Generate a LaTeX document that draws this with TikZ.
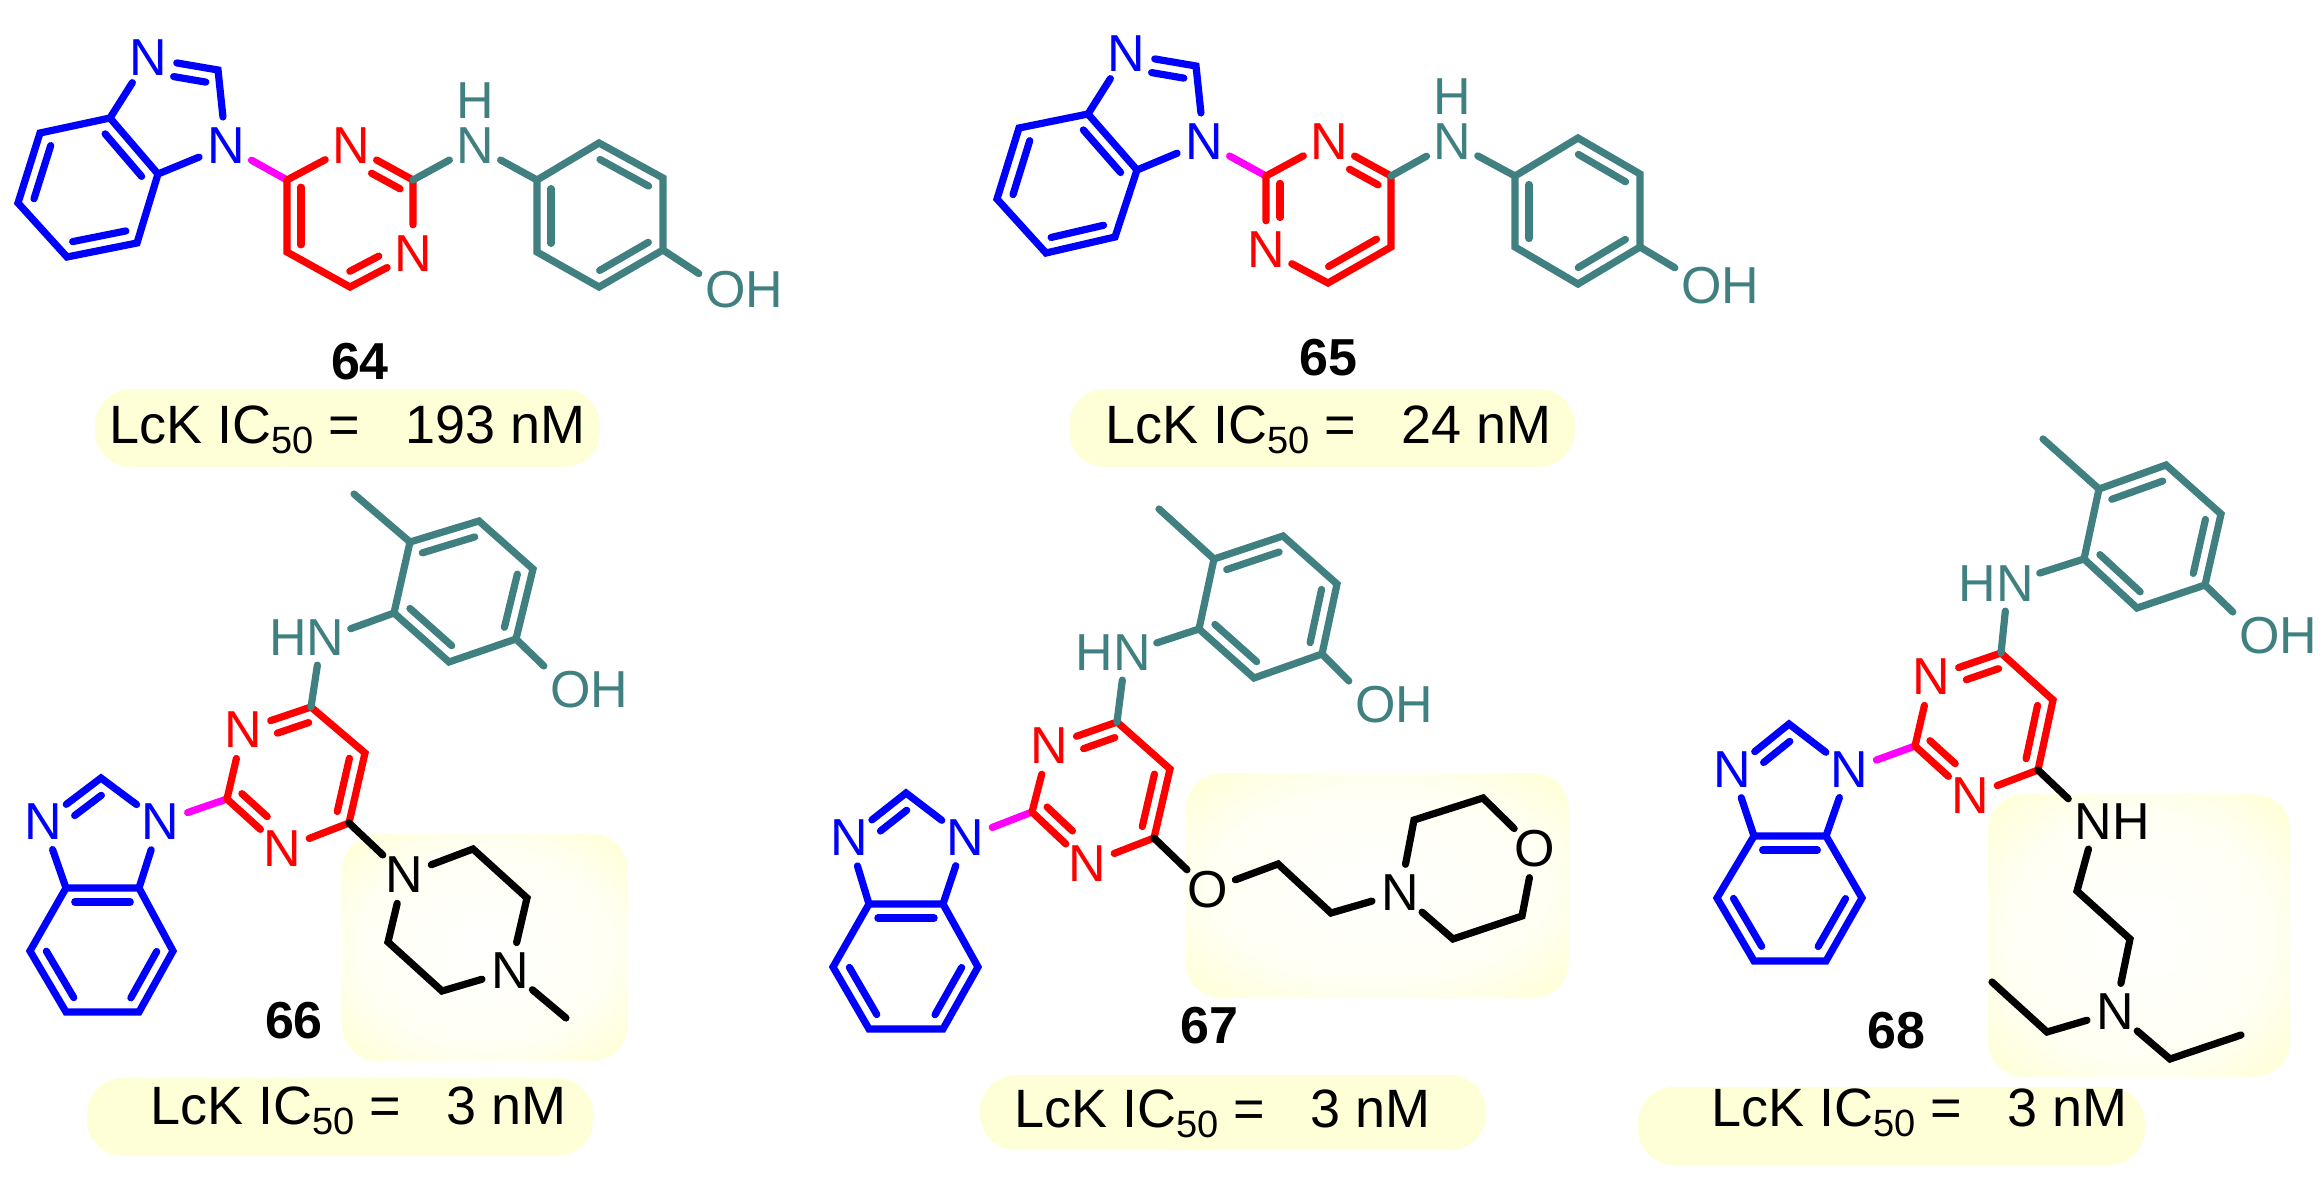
\documentclass[tikz,border=0pt]{standalone}
\usepackage{fontspec}
\setmainfont{Liberation Sans}
\usetikzlibrary{calc}

\definecolor{arylteal}{HTML}{408080}
\definecolor{linkpink}{HTML}{FF00FF}
\definecolor{pillyellow}{HTML}{FFFFD7}
\definecolor{paleyellow}{HTML}{FFFFF3}
\pgfdeclareradialshading{boxglow}{\pgfpointorigin}{color(0bp)=(white); color(22bp)=(paleyellow); color(34bp)=(pillyellow); color(100bp)=(pillyellow)}

% inner line of a double bond, on the left of a->b
\newcommand{\inbond}[5]{\draw[#1] ($(#2)!#4!(#3)!14pt!90:(#3)$) -- ($(#3)!#5!(#2)!14pt!-90:(#2)$);}
\newcommand{\lck}[1]{LcK IC\raisebox{-10.5pt}{\fontsize{38}{38}\selectfont 50} =\ \ \ #1 nM}

\begin{document}
\begin{tikzpicture}[x=1pt,y=-1pt,
    bond/.style={line width=7.2pt, line cap=round, line join=miter},
    bluebond/.style={bond, draw=blue},
    redbond/.style={bond, draw=red},
    tealbond/.style={bond, draw=arylteal},
    pinkbond/.style={bond, draw=linkpink},
    blackbond/.style={bond, draw=black},
    atom/.style={circle, inner sep=0pt, minimum size=58pt, font=\fontsize{52}{60}\selectfont},
    blueatom/.style={atom, text=blue},
    redatom/.style={atom, text=red},
    tealatom/.style={atom, text=arylteal},
    blackatom/.style={atom, text=black},
    group/.style={rectangle, inner xsep=6pt, inner ysep=9pt, font=\fontsize{52}{60}\selectfont},
    hydrogen/.style={inner sep=0pt, text=arylteal, font=\fontsize{52}{60}\selectfont},
    compound/.style={inner sep=0pt, font=\fontsize{52}{60}\selectfont\bfseries},
    potency/.style={anchor=base west, inner sep=0pt, font=\fontsize{54}{60}\selectfont},
    pill/.style={fill=pillyellow, rounded corners=36pt},
    glow/.style={shading=boxglow, rounded corners=36pt},
    ]
    \useasboundingbox (0,0) rectangle (2322,1180);

    %Backgrounds
    \fill[pill] (95,389) rectangle (600,467);
    \fill[pill] (1069,389) rectangle (1575,467);
    \fill[pill] (87,1078) rectangle (593,1156);
    \fill[pill] (980,1075) rectangle (1486,1150);
    \fill[pill] (1638,1087) rectangle (2145,1165);
    \shade[glow] (342,834) rectangle (628,1061);
    \shade[glow] (1186,773) rectangle (1569,998);
    \shade[glow] (1988,794) rectangle (2290,1077);

    %Compound 64
    \coordinate (m64b1) at (110,118); \coordinate (m64b2) at (40,133); \coordinate (m64b3) at (18,203);
    \coordinate (m64b4) at (67,257); \coordinate (m64b5) at (137,243); \coordinate (m64b6) at (158,174);
    \coordinate (m64ci) at (218,70);
    \node[blueatom] (m64ni) at (226,146) {N};
    \node[blueatom] (m64nj) at (148,58) {N};
    \coordinate (m64pc4) at (287,180); \coordinate (m64pc2) at (413,180);
    \coordinate (m64pc6) at (350,287); \coordinate (m64pc5) at (287,252);
    \node[redatom] (m64pn3) at (351,146) {N};
    \node[redatom] (m64pn1) at (413,254) {N};
    \node[tealatom] (m64nh) at (475,146) {N};
    \node[hydrogen] (m64h) at (475,101) {H};
    \coordinate (m64r1) at (537,180); \coordinate (m64r2) at (537,252); \coordinate (m64r3) at (599,287);
    \coordinate (m64r4) at (663,250); \coordinate (m64r5) at (663,178); \coordinate (m64r6) at (599,143);
    \node[group, text=arylteal] (m64oh) at (744,290) {OH};
    \node[compound] (m64name) at (360,362) {64};
    \node[potency] (m64ic) at (109,443) {\lck{193}};

    %Compound 65
    \coordinate (m65b1) at (1088,114); \coordinate (m65b2) at (1019,128); \coordinate (m65b3) at (997,199);
    \coordinate (m65b4) at (1046,253); \coordinate (m65b5) at (1115,237); \coordinate (m65b6) at (1137,170);
    \coordinate (m65ci) at (1196,66);
    \node[blueatom] (m65ni) at (1204,142) {N};
    \node[blueatom] (m65nj) at (1126,54) {N};
    \coordinate (m65pc2) at (1266,176); \coordinate (m65pc4) at (1391,176);
    \coordinate (m65pc5) at (1391,247); \coordinate (m65pc6) at (1328,283);
    \node[redatom] (m65pn3) at (1329,142) {N};
    \node[redatom] (m65pn1) at (1266,250) {N};
    \node[tealatom] (m65nh) at (1452,142) {N};
    \node[hydrogen] (m65h) at (1452,97) {H};
    \coordinate (m65r1) at (1515,176); \coordinate (m65r2) at (1515,247); \coordinate (m65r3) at (1578,284);
    \coordinate (m65r4) at (1640,247); \coordinate (m65r5) at (1640,174); \coordinate (m65r6) at (1578,138);
    \node[group, text=arylteal] (m65oh) at (1720,286) {OH};
    \node[compound] (m65name) at (1328,358) {65};
    \node[potency] (m65ic) at (1105,443) {\lck{24}};

    %Compound 66
    \coordinate (m66b1) at (66,888); \coordinate (m66b2) at (30,951); \coordinate (m66b3) at (66,1012);
    \coordinate (m66b4) at (139,1012); \coordinate (m66b5) at (173,951); \coordinate (m66b6) at (139,888);
    \coordinate (m66ci) at (101,778);
    \node[blueatom] (m66ni) at (160,822) {N};
    \node[blueatom] (m66nj) at (43,822) {N};
    \coordinate (m66pc2) at (227,799); \coordinate (m66pc4) at (311,707);
    \coordinate (m66pc5) at (365,753); \coordinate (m66pc6) at (349,823);
    \node[redatom] (m66pn3) at (243,730) {N};
    \node[redatom] (m66pn1) at (282,849) {N};
    \node[group, text=arylteal] (m66hn) at (307,638) {HN};
    \coordinate (m66r1) at (394,613); \coordinate (m66r2) at (449,662); \coordinate (m66r3) at (516,639);
    \coordinate (m66r4) at (533,569); \coordinate (m66r5) at (479,521); \coordinate (m66r6) at (410,542);
    \coordinate (m66me) at (354,494);
    \node[group, text=arylteal] (m66oh) at (589,690) {OH};
    \node[blackatom] (m66n1) at (404,875) {N};
    \coordinate (m66s2) at (473,849); \coordinate (m66s3) at (527,898);
    \node[blackatom] (m66n4) at (510,971) {N};
    \coordinate (m66s5) at (442,991); \coordinate (m66s6) at (388,942); \coordinate (m66sme) at (566,1018);
    \node[compound] (m66name) at (294,1021) {66};
    \node[potency] (m66ic) at (150,1124) {\lck{3}};

    %Compound 67
    \coordinate (m67b1) at (869,904); \coordinate (m67b2) at (833,967); \coordinate (m67b3) at (869,1029);
    \coordinate (m67b4) at (943,1029); \coordinate (m67b5) at (978,967); \coordinate (m67b6) at (943,904);
    \coordinate (m67ci) at (906,793);
    \node[blueatom] (m67ni) at (965,838) {N};
    \node[blueatom] (m67nj) at (849,838) {N};
    \coordinate (m67pc2) at (1032,812); \coordinate (m67pc4) at (1117,722);
    \coordinate (m67pc5) at (1170,769); \coordinate (m67pc6) at (1154,838);
    \node[redatom] (m67pn3) at (1049,746) {N};
    \node[redatom] (m67pn1) at (1087,864) {N};
    \node[group, text=arylteal] (m67hn) at (1113,653) {HN};
    \coordinate (m67r1) at (1199,629); \coordinate (m67r2) at (1254,678); \coordinate (m67r3) at (1322,654);
    \coordinate (m67r4) at (1337,584); \coordinate (m67r5) at (1283,536); \coordinate (m67r6) at (1214,559);
    \coordinate (m67me) at (1159,509);
    \node[group, text=arylteal] (m67oh) at (1394,705) {OH};
    \node[blackatom] (m67o1) at (1208,890) {O};
    \coordinate (m67e1) at (1278,864); \coordinate (m67e2) at (1331,913);
    \node[blackatom] (m67n1) at (1400,893) {N};
    \coordinate (m67s1) at (1414,820); \coordinate (m67s2) at (1483,798);
    \node[blackatom] (m67o2) at (1535,849) {O};
    \coordinate (m67s3) at (1522,916); \coordinate (m67s4) at (1453,939);
    \node[compound] (m67name) at (1209,1026) {67};
    \node[potency] (m67ic) at (1014,1127) {\lck{3}};

    %Compound 68
    \coordinate (m68b1) at (1754,836); \coordinate (m68b2) at (1717,898); \coordinate (m68b3) at (1754,961);
    \coordinate (m68b4) at (1826,961); \coordinate (m68b5) at (1862,898); \coordinate (m68b6) at (1826,836);
    \coordinate (m68ci) at (1789,724);
    \node[blueatom] (m68ni) at (1849,770) {N};
    \node[blueatom] (m68nj) at (1732,770) {N};
    \coordinate (m68pc2) at (1915,746); \coordinate (m68pc4) at (2001,653);
    \coordinate (m68pc5) at (2053,700); \coordinate (m68pc6) at (2038,770);
    \node[redatom] (m68pn3) at (1931,677) {N};
    \node[redatom] (m68pn1) at (1970,796) {N};
    \node[group, text=arylteal] (m68hn) at (1996,584) {HN};
    \coordinate (m68r1) at (2084,559); \coordinate (m68r2) at (2137,608); \coordinate (m68r3) at (2205,585);
    \coordinate (m68r4) at (2221,514); \coordinate (m68r5) at (2166,465); \coordinate (m68r6) at (2099,489);
    \coordinate (m68me) at (2043,439);
    \node[group, text=arylteal] (m68oh) at (2278,636) {OH};
    \node[group] (m68nh) at (2112,822) {NH};
    \coordinate (m68d1) at (2077,891); \coordinate (m68d2) at (2130,939);
    \node[blackatom] (m68n) at (2115,1012) {N};
    \coordinate (m68l1) at (2047,1032); \coordinate (m68l2) at (1992,982);
    \coordinate (m68t1) at (2170,1059); \coordinate (m68t2) at (2241,1035);
    \node[compound] (m68name) at (1896,1031) {68};
    \node[potency] (m68ic) at (1711,1126) {\lck{3}};

    %Lines
    \foreach \mol in {m64,m65,m66,m67,m68}{
        \draw[bluebond] (\mol b1) -- (\mol b2) -- (\mol b3) -- (\mol b4) -- (\mol b5) -- (\mol b6) -- cycle;
        \draw[bluebond] (\mol b6) -- (\mol ni) -- (\mol ci) -- (\mol nj) -- (\mol b1);
        \inbond{bluebond}{\mol b6}{\mol b1}{.12}{.12}
        \inbond{bluebond}{\mol b2}{\mol b3}{.12}{.12}
        \inbond{bluebond}{\mol b4}{\mol b5}{.12}{.12}
        \inbond{bluebond}{\mol ci}{\mol nj}{.14}{.4}
        \draw[tealbond] (\mol r1) -- (\mol r2) -- (\mol r3) -- (\mol r4) -- (\mol r5) -- (\mol r6) -- cycle;
        \inbond{tealbond}{\mol r1}{\mol r2}{.12}{.12}
        \inbond{tealbond}{\mol r3}{\mol r4}{.12}{.12}
        \inbond{tealbond}{\mol r5}{\mol r6}{.12}{.12}
    }
    \foreach \mol in {m65,m66,m67,m68}{
        \draw[pinkbond] (\mol ni) -- (\mol pc2);
        \draw[redbond] (\mol pc2) -- (\mol pn3) -- (\mol pc4) -- (\mol pc5) -- (\mol pc6) -- (\mol pn1) -- (\mol pc2);
        \inbond{redbond}{\mol pc2}{\mol pn1}{.1}{.44}
        \inbond{redbond}{\mol pc6}{\mol pc5}{.12}{.12}
        \inbond{redbond}{\mol pc4}{\mol pn3}{.1}{.44}
    }
    \foreach \mol in {m66,m67,m68}{
        \draw[tealbond] (\mol r6) -- (\mol me);
    }

    %Compound 64 links
    \draw[pinkbond] (m64ni) -- (m64pc4);
    \draw[redbond] (m64pc4) -- (m64pn3) -- (m64pc2) -- (m64pn1) -- (m64pc6) -- (m64pc5) -- (m64pc4);
    \inbond{redbond}{m64pc4}{m64pc5}{.1}{.1}
    \inbond{redbond}{m64pc6}{m64pn1}{.1}{.44}
    \inbond{redbond}{m64pc2}{m64pn3}{.1}{.44}
    \draw[tealbond] (m64pc2) -- (m64nh) -- (m64r1);
    \draw[tealbond] (m64r4) -- (m64oh.160);

    %Compound 65 links
    \draw[tealbond] (m65pc4) -- (m65nh) -- (m65r1);
    \draw[tealbond] (m65r4) -- (m65oh.158);

    %Compound 66 links
    \draw[tealbond] (m66pc4) -- (m66hn.-69);
    \draw[tealbond] (m66hn.12) -- (m66r1);
    \draw[tealbond] (m66r3) -- (m66oh.152);
    \draw[blackbond] (m66pc6) -- (m66n1) -- (m66s2) -- (m66s3) -- (m66n4) -- (m66s5) -- (m66s6) -- (m66n1);
    \draw[blackbond] (m66n4) -- (m66sme);

    %Compound 67 links
    \draw[tealbond] (m67pc4) -- (m67hn.-71);
    \draw[tealbond] (m67hn.13) -- (m67r1);
    \draw[tealbond] (m67r3) -- (m67oh.152);
    \draw[blackbond] (m67pc6) -- (m67o1) -- (m67e1) -- (m67e2) -- (m67n1);
    \draw[blackbond] (m67n1) -- (m67s1) -- (m67s2) -- (m67o2) -- (m67s3) -- (m67s4) -- (m67n1);

    %Compound 68 links
    \draw[tealbond] (m68pc4) -- (m68hn.-71);
    \draw[tealbond] (m68hn.14) -- (m68r1);
    \draw[tealbond] (m68r3) -- (m68oh.152);
    \draw[blackbond] (m68pc6) -- (m68nh.152);
    \draw[blackbond] (m68nh.229) -- (m68d1) -- (m68d2) -- (m68n);
    \draw[blackbond] (m68n) -- (m68l1) -- (m68l2);
    \draw[blackbond] (m68n) -- (m68t1) -- (m68t2);

\end{tikzpicture}
\end{document}
